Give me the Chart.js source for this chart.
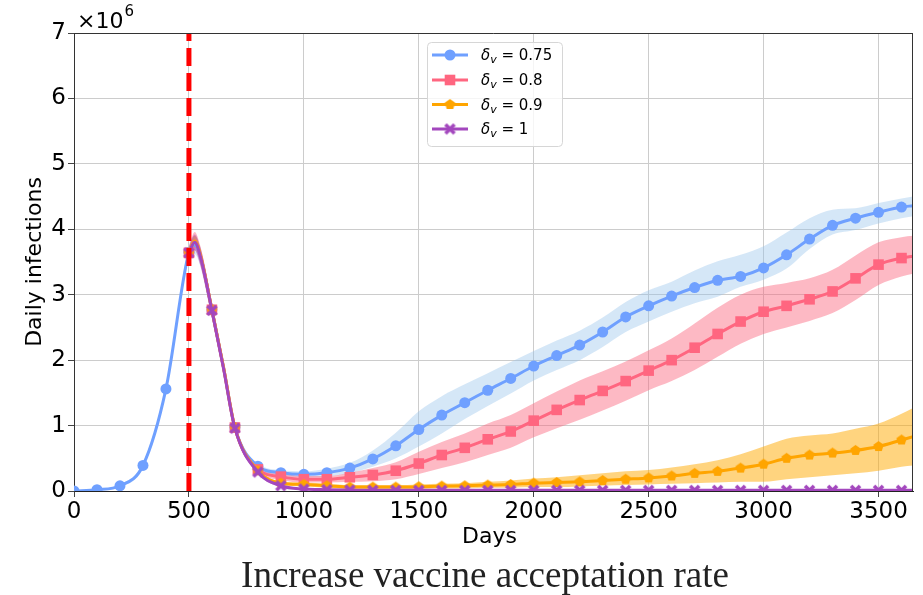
<!DOCTYPE html>
<html>
<head>
<meta charset="utf-8">
<script src="https://cdn.jsdelivr.net/npm/chart.js@4.4.0/dist/chart.umd.min.js"></script>
<style>
  html, body { margin: 0; padding: 0; background: #fff; }
  #wrap { width: 923px; height: 595px; }
</style>
</head>
<body>
<div id="wrap"><canvas id="infChart" width="923" height="595"></canvas></div>
<script>
// Datos (infecciones diarias en millones)
const days = [0, 100, 200, 300, 400, 500, 525, 550, 600, 650,
  700, 800, 900, 1000, 1100, 1200, 1300, 1400, 1500, 1600,
  1700, 1800, 1900, 2000, 2100, 2200, 2300, 2400, 2500, 2600,
  2700, 2800, 2900, 3000, 3100, 3200, 3300, 3400, 3500, 3600, 3650];
const xTicks = [0, 500, 1000, 1500, 2000, 2500, 3000, 3500];
const yTicks = [0, 1, 2, 3, 4, 5, 6, 7];
const legendLabels = ['0.75', '0.8', '0.9', '1'];
const vaccineDay = 500;

const blue = [0, 0.02, 0.08, 0.39, 1.56, 3.65, 3.76, 3.58, 2.77, 1.9,
  0.97, 0.38, 0.28, 0.255, 0.28, 0.35, 0.49, 0.69, 0.94, 1.16,
  1.35, 1.54, 1.72, 1.91, 2.07, 2.23, 2.43, 2.66, 2.83, 2.98,
  3.11, 3.22, 3.28, 3.41, 3.61, 3.85, 4.06, 4.17, 4.26, 4.34, 4.36];
const blueHigh = [0.01, 0.03, 0.1, 0.43, 1.62, 3.75, 3.9, 3.72, 2.9, 2.0,
  1.03, 0.42, 0.32, 0.3, 0.34, 0.43, 0.62, 0.89, 1.22, 1.45,
  1.63, 1.8, 1.97, 2.14, 2.3, 2.45, 2.65, 2.89, 3.07, 3.2,
  3.37, 3.51, 3.61, 3.74, 3.95, 4.17, 4.3, 4.32, 4.4, 4.47, 4.5];
const blueLow = [0, 0.01, 0.06, 0.35, 1.5, 3.55, 3.62, 3.44, 2.64, 1.8,
  0.91, 0.34, 0.24, 0.21, 0.22, 0.27, 0.37, 0.5, 0.68, 0.88,
  1.1, 1.3, 1.49, 1.69, 1.85, 2.0, 2.2, 2.43, 2.59, 2.74,
  2.87, 2.97, 3.12, 3.23, 3.4, 3.7, 3.92, 3.99, 4.09, 4.17, 4.2];

const pink = [null, null, null, null, null, 3.64, 3.82, 3.6, 2.77, 1.9,
  0.97, 0.33, 0.22, 0.18, 0.18, 0.21, 0.245, 0.31, 0.42, 0.55,
  0.66, 0.79, 0.91, 1.075, 1.24, 1.39, 1.53, 1.68, 1.84, 2.0,
  2.19, 2.4, 2.59, 2.74, 2.83, 2.93, 3.05, 3.25, 3.46, 3.56, 3.59];
const pinkHigh = [null, null, null, null, null, 3.74, 3.96, 3.74, 2.89, 2.0,
  1.03, 0.37, 0.27, 0.23, 0.23, 0.28, 0.35, 0.44, 0.6, 0.75,
  0.88, 1.03, 1.16, 1.34, 1.52, 1.69, 1.83, 1.98, 2.15, 2.33,
  2.56, 2.8, 3.0, 3.12, 3.18, 3.25, 3.38, 3.6, 3.8, 3.88, 3.9];
const pinkLow = [null, null, null, null, null, 3.54, 3.68, 3.46, 2.65, 1.8,
  0.91, 0.29, 0.17, 0.13, 0.13, 0.14, 0.15, 0.18, 0.26, 0.35,
  0.44, 0.55, 0.66, 0.82, 0.96, 1.09, 1.23, 1.38, 1.54, 1.68,
  1.85, 2.05, 2.25, 2.4, 2.5, 2.6, 2.72, 2.92, 3.15, 3.28, 3.32];

const orange = [null, null, null, null, null, 3.64, 3.82, 3.6, 2.77, 1.9,
  0.97, 0.31, 0.12, 0.1, 0.08, 0.06, 0.06, 0.06, 0.065, 0.075,
  0.08, 0.09, 0.1, 0.12, 0.13, 0.14, 0.16, 0.18, 0.2, 0.23,
  0.27, 0.3, 0.35, 0.41, 0.5, 0.55, 0.58, 0.62, 0.68, 0.78, 0.83];
const orangeHigh = [null, null, null, null, null, 3.72, 3.9, 3.7, 2.87, 1.98,
  1.02, 0.34, 0.15, 0.13, 0.11, 0.09, 0.09, 0.09, 0.1, 0.11,
  0.12, 0.14, 0.16, 0.19, 0.21, 0.24, 0.27, 0.3, 0.32, 0.36,
  0.41, 0.47, 0.56, 0.68, 0.8, 0.85, 0.88, 0.95, 1.03, 1.18, 1.27];
const orangeLow = [null, null, null, null, null, 3.56, 3.72, 3.5, 2.67, 1.82,
  0.92, 0.28, 0.09, 0.07, 0.05, 0.03, 0.03, 0.03, 0.03, 0.04,
  0.04, 0.05, 0.05, 0.06, 0.06, 0.07, 0.08, 0.09, 0.1, 0.11,
  0.12, 0.13, 0.14, 0.14, 0.18, 0.21, 0.24, 0.27, 0.31, 0.37, 0.39];

const purple = [null, null, null, null, null, 3.64, 3.8, 3.58, 2.76, 1.88,
  0.96, 0.29, 0.08, 0.03, 0.02, 0.015, 0.01, 0.01, 0.01, 0.01,
  0.01, 0.01, 0.01, 0.01, 0.01, 0.01, 0.01, 0.01, 0.01, 0.01,
  0.01, 0.01, 0.01, 0.01, 0.01, 0.01, 0.01, 0.01, 0.01, 0.01, 0.01];
const purpleHigh = [null, null, null, null, null, 3.74, 3.92, 3.72, 2.88, 1.98,
  1.02, 0.32, 0.1, 0.04, 0.03, 0.02, 0.015, 0.015, 0.015, 0.015,
  0.015, 0.015, 0.015, 0.015, 0.015, 0.015, 0.015, 0.015, 0.015, 0.015,
  0.015, 0.015, 0.015, 0.015, 0.015, 0.015, 0.015, 0.015, 0.015, 0.015, 0.015];
const purpleLow = [null, null, null, null, null, 3.54, 3.68, 3.44, 2.64, 1.78,
  0.9, 0.26, 0.06, 0.02, 0.01, 0.01, 0.005, 0.005, 0.005, 0.005,
  0.005, 0.005, 0.005, 0.005, 0.005, 0.005, 0.005, 0.005, 0.005, 0.005,
  0.005, 0.005, 0.005, 0.005, 0.005, 0.005, 0.005, 0.005, 0.005, 0.005, 0.005];

const COLORS = {
  blue: '#6fa0ff', pink: '#ff6680', orange: '#ffa500', purple: '#a347be'
};
const BANDS = {
  blue: 'rgba(150, 195, 235, 0.4)',
  pink: 'rgba(250, 100, 125, 0.45)',
  orange: 'rgba(255, 170, 0, 0.5)',
  purple: 'rgba(170, 60, 190, 0.4)'
};

function pts(arr) {
  return days.map((d, i) => ({ x: d, y: arr[i] }));
}

// marcadores dibujados a mano (pentágono y X rellena)
function pentagonMarker(color, r) {
  const c = document.createElement('canvas');
  c.width = c.height = Math.ceil(r * 2 + 2);
  const g = c.getContext('2d');
  const cx = c.width / 2, cy = c.height / 2;
  g.beginPath();
  for (let k = 0; k < 5; k++) {
    const a = -Math.PI / 2 + k * 2 * Math.PI / 5;
    const px = cx + r * Math.cos(a), py = cy + r * Math.sin(a);
    if (k === 0) g.moveTo(px, py); else g.lineTo(px, py);
  }
  g.closePath();
  g.fillStyle = color;
  g.fill();
  return c;
}
function xMarker(color, r) {
  const c = document.createElement('canvas');
  c.width = c.height = Math.ceil(r * 2 + 4);
  const g = c.getContext('2d');
  const cx = c.width / 2, cy = c.height / 2;
  g.strokeStyle = color;
  g.lineWidth = 3.6;
  g.lineCap = 'butt';
  g.beginPath();
  g.moveTo(cx - r, cy - r); g.lineTo(cx + r, cy + r);
  g.moveTo(cx + r, cy - r); g.lineTo(cx - r, cy + r);
  g.stroke();
  return c;
}

const orangeMark = pentagonMarker(COLORS.orange, 5.5);
const purpleMark = xMarker(COLORS.purple, 4.5);

function markerRadius(r) {
  return ctx => (days[ctx.dataIndex] % 100 === 0 ? r : 0);
}

function lineSet(label, arr, color, style, radius, order) {
  return {
    label: label,
    data: pts(arr),
    borderColor: color,
    backgroundColor: color,
    borderWidth: 3,
    pointStyle: style,
    pointRadius: markerRadius(radius),
    pointBorderWidth: 0,
    pointBackgroundColor: color,
    cubicInterpolationMode: 'monotone',
    fill: false,
    order: order
  };
}
function bandSet(arr, color, fill, order) {
  return {
    label: '',
    data: pts(arr),
    borderWidth: 0,
    borderColor: 'rgba(0,0,0,0)',
    backgroundColor: color,
    pointRadius: 0,
    cubicInterpolationMode: 'monotone',
    fill: fill,
    order: order
  };
}

const series = [
  { key: 'blue', style: 'circle', radius: 5.5 },
  { key: 'pink', style: 'rect', radius: 7.5 },
  { key: 'orange', style: orangeMark, radius: 5 },
  { key: 'purple', style: purpleMark, radius: 5 }
];

const datasets = [
  // bandas
  bandSet(blueHigh, BANDS.blue, '+1', 20), bandSet(blueLow, BANDS.blue, false, 20),
  bandSet(pinkHigh, BANDS.pink, '+1', 19), bandSet(pinkLow, BANDS.pink, false, 19),
  bandSet(orangeHigh, BANDS.orange, '+1', 18), bandSet(orangeLow, BANDS.orange, false, 18),
  bandSet(purpleHigh, BANDS.purple, '+1', 17), bandSet(purpleLow, BANDS.purple, false, 17),
  // curvas
  lineSet('0.75', blue, COLORS.blue, 'circle', 5.5, 4),
  lineSet('0.8', pink, COLORS.pink, 'rect', 7.5, 3),
  lineSet('0.9', orange, COLORS.orange, orangeMark, 5, 2),
  lineSet('1', purple, COLORS.purple, purpleMark, 5, 1),
  // inicio de vacunación
  {
    label: 'vacuna',
    data: [{ x: vaccineDay, y: 0 }, { x: vaccineDay, y: 7 }],
    borderColor: '#ff0000',
    borderWidth: 5,
    borderDash: [18, 7],
    pointRadius: 0,
    tension: 0,
    fill: false,
    order: -1
  }
];

const FONT = 'DejaVu Sans';

const decorPlugin = {
  id: 'decor',
  afterDraw(chart) {
    const ctx = chart.ctx;
    const a = chart.chartArea;
    ctx.save();

    // marco superior y derecho
    ctx.strokeStyle = '#333';
    ctx.lineWidth = 1;
    ctx.beginPath();
    ctx.moveTo(a.left, a.top + 0.5); ctx.lineTo(a.right, a.top + 0.5);
    ctx.moveTo(a.right - 0.5, a.top); ctx.lineTo(a.right - 0.5, a.bottom);
    ctx.stroke();

    ctx.fillStyle = '#000';
    // multiplicador
    ctx.textAlign = 'left';
    ctx.textBaseline = 'alphabetic';
    ctx.font = '22px "' + FONT + '"';
    ctx.fillText('×10', 77, 28);
    const w = ctx.measureText('×10').width;
    ctx.font = '15px "' + FONT + '"';
    ctx.fillText('6', 77 + w + 1, 16);

    // títulos de ejes
    ctx.font = '22px "' + FONT + '"';
    ctx.textAlign = 'center';
    ctx.fillText('Days', (a.left + a.right) / 2 - 4, 543);
    ctx.save();
    ctx.translate(35, (a.top + a.bottom) / 2);
    ctx.rotate(-Math.PI / 2);
    ctx.textBaseline = 'middle';
    ctx.fillText('Daily infections', 0, 0);
    ctx.restore();

    // título inferior
    ctx.font = '37px "Liberation Serif"';
    ctx.fillStyle = '#222';
    ctx.textAlign = 'center';
    ctx.fillText('Increase vaccine acceptation rate', 485, 587);

    // leyenda
    const lx = 427, ly = 42, lw = 135, lh = 104;
    ctx.beginPath();
    ctx.roundRect(lx + 0.5, ly + 0.5, lw, lh, 4);
    ctx.fillStyle = 'rgba(255,255,255,0.8)';
    ctx.fill();
    ctx.strokeStyle = '#d6d6d6';
    ctx.lineWidth = 1;
    ctx.stroke();

    const rows = [55, 80, 104.5, 129];
    series.forEach((s, i) => {
      const y = rows[i];
      const color = COLORS[s.key];
      ctx.strokeStyle = color;
      ctx.lineWidth = 3;
      ctx.beginPath();
      ctx.moveTo(432, y); ctx.lineTo(468, y);
      ctx.stroke();
      ctx.fillStyle = color;
      Chart.helpers.drawPoint(ctx, { pointStyle: s.style, radius: s.radius, borderWidth: 0, rotation: 0 }, 450, y);

      ctx.fillStyle = '#000';
      ctx.textAlign = 'left';
      ctx.textBaseline = 'alphabetic';
      let x = 481;
      ctx.font = 'italic 15px "' + FONT + '"';
      ctx.fillText('δ', x, y + 5);
      x += ctx.measureText('δ').width;
      ctx.font = 'italic 11px "' + FONT + '"';
      ctx.fillText('v', x, y + 8);
      x += ctx.measureText('v').width;
      ctx.font = '15px "' + FONT + '"';
      ctx.fillText(' = ' + legendLabels[i], x, y + 5);
    });

    ctx.restore();
  }
};

const gridOpts = {
  color: '#cccccc',
  lineWidth: 1,
  drawTicks: true,
  tickLength: 6,
  tickColor: '#444'
};

new Chart(document.getElementById('infChart').getContext('2d'), {
  type: 'line',
  data: { datasets: datasets },
  options: {
    responsive: false,
    animation: false,
    events: [],
    layout: { padding: { left: 0, right: 10, top: 33, bottom: 0 } },
    plugins: {
      legend: { display: false },
      tooltip: { enabled: false },
      title: { display: false }
    },
    scales: {
      x: {
        type: 'linear',
        min: 0,
        max: 3650,
        afterBuildTicks: s => { s.ticks = xTicks.map(v => ({ value: v })); },
        afterFit: s => { s.height = 104; s.paddingLeft = 0; s.paddingRight = 0; },
        ticks: {
          font: { family: FONT, size: 23 },
          color: '#000',
          padding: 1,
          maxRotation: 0,
          autoSkip: false,
          callback: v => String(v)
        },
        grid: gridOpts,
        border: { display: true, color: '#222', width: 1 }
      },
      y: {
        type: 'linear',
        min: 0,
        max: 7,
        afterBuildTicks: s => { s.ticks = yTicks.map(v => ({ value: v })); },
        afterFit: s => { s.width = 74; s.paddingTop = 0; s.paddingBottom = 0; },
        ticks: {
          font: { family: FONT, size: 23 },
          color: '#000',
          padding: 2,
          callback: v => String(v)
        },
        grid: gridOpts,
        border: { display: true, color: '#333', width: 1 }
      }
    }
  },
  plugins: [decorPlugin]
});
</script>
</body>
</html>
